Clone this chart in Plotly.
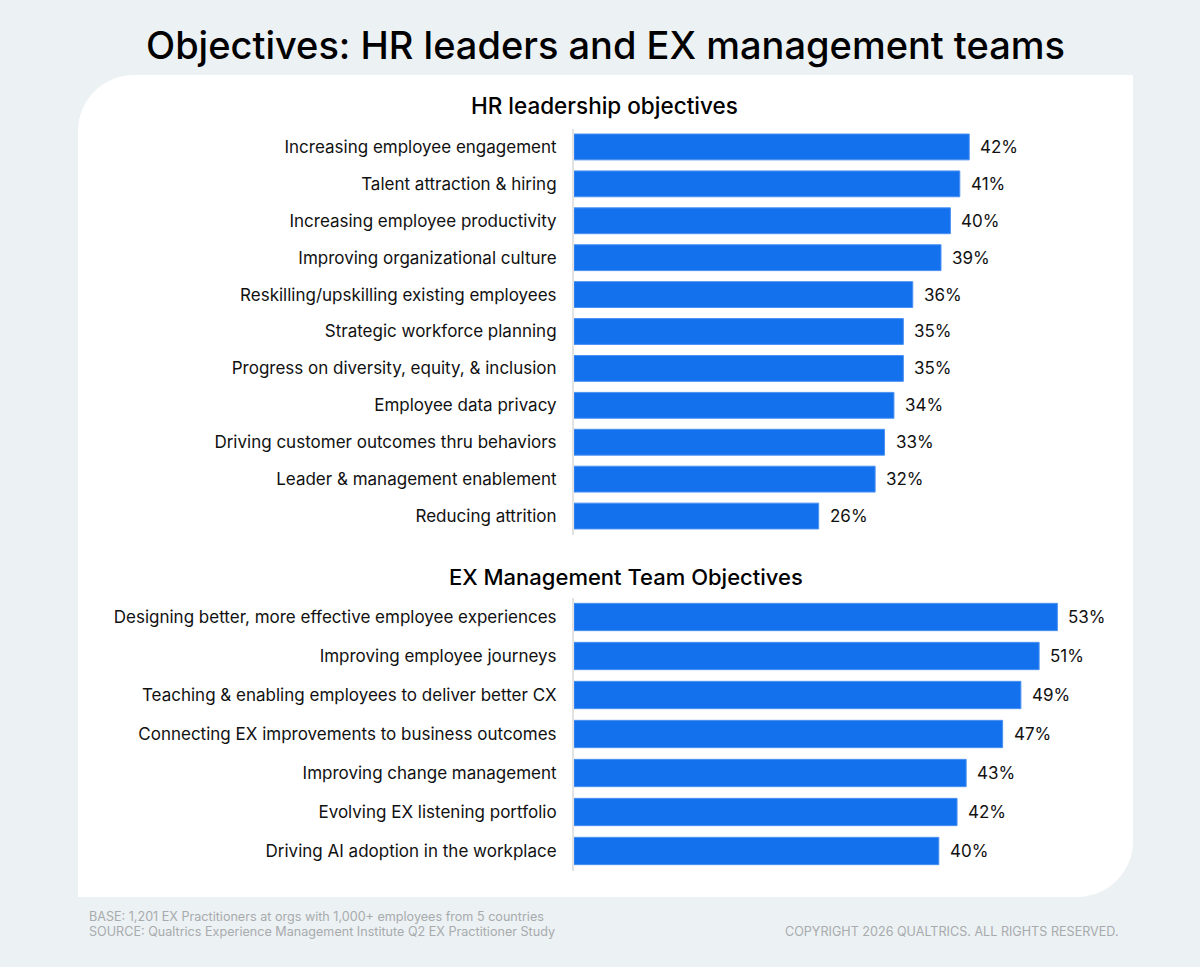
import plotly.graph_objects as go

W, H = 1200, 967

# ---------------- data ----------------
hr_categories = [
    "Increasing employee engagement",
    "Talent attraction & hiring",
    "Increasing employee productivity",
    "Improving organizational culture",
    "Reskilling/upskilling existing employees",
    "Strategic workforce planning",
    "Progress on diversity, equity, & inclusion",
    "Employee data privacy",
    "Driving customer outcomes thru behaviors",
    "Leader & management enablement",
    "Reducing attrition",
]
hr_values = [42, 41, 40, 39, 36, 35, 35, 34, 33, 32, 26]

ex_categories = [
    "Designing better, more effective employee experiences",
    "Improving employee journeys",
    "Teaching & enabling employees to deliver better CX",
    "Connecting EX improvements to business outcomes",
    "Improving change management",
    "Evolving EX listening portfolio",
    "Driving AI adoption in the workplace",
]
ex_values = [53, 51, 49, 47, 43, 42, 40]

title_text = "Objectives: HR leaders and EX management teams"
hr_title = "HR leadership objectives"
ex_title = "EX Management Team Objectives"
footer_base = "BASE: 1,201 EX Practitioners at orgs with 1,000+ employees from 5 countries"
footer_source = "SOURCE: Qualtrics Experience Management Institute Q2 EX Practitioner Study"
footer_copy = "COPYRIGHT 2026 QUALTRICS. ALL RIGHTS RESERVED."

# ---------------- style ----------------
BG = "#ECF1F4"
BAR = "#1371EE"
FONT = "Inter, Roboto, sans-serif"


def px(x):
    return x / W


def py(y):
    return 1 - y / H


fig = go.Figure()

fig.add_trace(go.Bar(
    x=hr_values, y=hr_categories, orientation="h",
    marker=dict(color=BAR, line=dict(color="#4A90F2", width=1)),
    width=0.7, xaxis="x", yaxis="y", hoverinfo="skip",
))
fig.add_trace(go.Bar(
    x=ex_values, y=ex_categories, orientation="h",
    marker=dict(color=BAR, line=dict(color="#4A90F2", width=1)),
    width=0.7, xaxis="x2", yaxis="y2", hoverinfo="skip",
))

x0, x1 = 574, 1100
hr_scale = 9.41
ex_scale = 9.12

axis_common = dict(showgrid=False, zeroline=False, showticklabels=False, fixedrange=True)

# panel shape: rounded top-left and bottom-right corners
L, T, R, B, r = 78, 75, 1133, 897, 56
k = 0.5523 * r
path = (
    f"M {px(L)},{py(T + r)} "
    f"C {px(L)},{py(T + r - k)} {px(L + r - k)},{py(T)} {px(L + r)},{py(T)} "
    f"L {px(R)},{py(T)} "
    f"L {px(R)},{py(B - r)} "
    f"C {px(R)},{py(B - r + k)} {px(R - r + k)},{py(B)} {px(R - r)},{py(B)} "
    f"L {px(L)},{py(B)} Z"
)

value_font = dict(size=17, color="#111111", family=FONT)
annotations = []
for cats, vals, xr, yr in ((hr_categories, hr_values, "x", "y"),
                           (ex_categories, ex_values, "x2", "y2")):
    for c, v in zip(cats, vals):
        annotations.append(dict(
            text=f"{v}%", x=v, y=c, xref=xr, yref=yr, showarrow=False,
            xanchor="left", yanchor="middle", xshift=9, font=value_font,
        ))

annotations += [
    dict(text=title_text, x=px(605), y=py(45), xref="paper", yref="paper",
         showarrow=False, xanchor="center", yanchor="middle",
         font=dict(size=38, color="#000000", family=FONT, weight=500)),
    dict(text=hr_title, x=px(604), y=py(105), xref="paper", yref="paper",
         showarrow=False, xanchor="center", yanchor="middle",
         font=dict(size=22.5, color="#000000", family=FONT, weight=500)),
    dict(text=ex_title, x=px(626), y=py(577), xref="paper", yref="paper",
         showarrow=False, xanchor="center", yanchor="middle",
         font=dict(size=22, color="#000000", family=FONT, weight=500)),
    dict(text=footer_base, x=px(87), y=py(916), xref="paper", yref="paper",
         showarrow=False, xanchor="left", yanchor="middle",
         font=dict(size=12.6, color="#A8ABAD", family=FONT)),
    dict(text=footer_source, x=px(87), y=py(931), xref="paper", yref="paper",
         showarrow=False, xanchor="left", yanchor="middle",
         font=dict(size=12.6, color="#A8ABAD", family=FONT)),
    dict(text=footer_copy, x=px(1121), y=py(931), xref="paper", yref="paper",
         showarrow=False, xanchor="right", yanchor="middle",
         font=dict(size=12.6, color="#A8ABAD", family=FONT)),
]

fig.update_layout(
    width=W, height=H,
    margin=dict(l=0, r=0, t=0, b=0),
    paper_bgcolor=BG, plot_bgcolor="rgba(0,0,0,0)",
    showlegend=False,
    font=dict(family=FONT, color="#111111"),
    xaxis=dict(domain=[px(x0), px(x1)], range=[0, (x1 - x0) / hr_scale], anchor="y", **axis_common),
    yaxis=dict(domain=[py(534.5), py(128.5)], autorange="reversed", anchor="x",
               showline=True, linecolor="#E2E2E2", linewidth=2,
               ticks="", ticklabelstandoff=12,
               tickfont=dict(size=17, color="#111111", family=FONT), fixedrange=True),
    xaxis2=dict(domain=[px(x0), px(x1)], range=[0, (x1 - x0) / ex_scale], anchor="y2", **axis_common),
    yaxis2=dict(domain=[py(870.5), py(597.5)], autorange="reversed", anchor="x2",
                showline=True, linecolor="#E2E2E2", linewidth=2,
                ticks="", ticklabelstandoff=12,
                tickfont=dict(size=17, color="#111111", family=FONT), fixedrange=True),
    shapes=[dict(type="path", path=path, xref="paper", yref="paper",
                 fillcolor="white", line=dict(width=0), layer="below")],
    annotations=annotations,
)

fig.write_html("out.html")
